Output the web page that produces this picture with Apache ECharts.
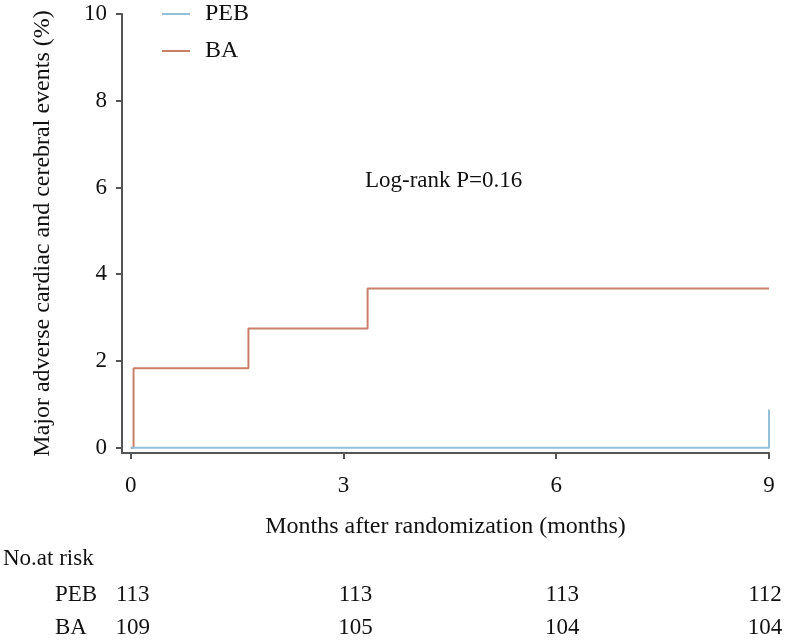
<!DOCTYPE html>
<html>
<head>
<meta charset="utf-8">
<script src="https://cdn.jsdelivr.net/npm/echarts@6/dist/echarts.min.js"></script>
<style>html,body{margin:0;padding:0;background:#fff}#c{width:800px;height:644px}</style>
</head>
<body>
<div id="c"></div>
<script>
// Kaplan-Meier cumulative event data (months, %)
const pebTimes = [0, 9];
const pebValues = [0, 0.88];
const baTimes = [0, 0.04, 1.66, 3.34, 9];
const baValues = [0, 1.83, 2.75, 3.67, 3.67];
const xTicks = [0, 3, 6, 9];
const yTicks = [0, 2, 4, 6, 8, 10];
// Number at risk table
const riskTimes = [0, 3, 6, 9];
const riskGroups = ['PEB', 'BA'];
const riskPEB = [113, 113, 113, 112];
const riskBA = [109, 105, 104, 104];
const annotation = 'Log-rank P=0.16';

// style only: horizontal nudge (px) of the risk-table columns
const riskColumnNudge = [2, 12, 6, -4];

const FONT = '"Liberation Serif", "Times New Roman", serif';
const AX = '#555';
const TXT = '#111';
const FS = 23;

const toPairs = (xs, ys) => xs.map((x, i) => [x, ys[i]]);
const riskData = [];
riskTimes.forEach((t, i) => {
  riskData.push({value: [t, 'PEB', riskPEB[i]], label: {offset: [riskColumnNudge[i], 0]}});
  riskData.push({value: [t, 'BA', riskBA[i]], label: {offset: [riskColumnNudge[i], 0]}});
});

const chart = echarts.init(document.getElementById('c'), null, {renderer: 'canvas'});
chart.setOption({
  animation: false,
  backgroundColor: '#fff',
  textStyle: {fontFamily: FONT},
  grid: [
    {left: 122, width: 647, top: 14, bottom: 191, containLabel: false},
    {left: 122, width: 647, top: 578, height: 74, containLabel: false}
  ],
  xAxis: [{
    type: 'value', gridIndex: 0, min: -0.123, max: 9,
    splitLine: {show: false},
    axisLine: {show: true, onZero: false, lineStyle: {color: AX, width: 2}},
    axisTick: {show: true, customValues: xTicks, length: 6, lineStyle: {color: AX, width: 2}},
    axisLabel: {customValues: xTicks, color: TXT, fontSize: FS, fontFamily: FONT, margin: 21},
    name: 'Months after randomization (months)', nameLocation: 'middle', nameGap: 62,
    nameTextStyle: {color: TXT, fontSize: 24, fontFamily: FONT}
  }, {
    type: 'value', gridIndex: 1, min: -0.123, max: 9, show: false
  }],
  yAxis: [{
    type: 'value', gridIndex: 0, min: -0.122, max: 10,
    splitLine: {show: false},
    axisLine: {show: true, onZero: false, lineStyle: {color: AX, width: 2}},
    axisTick: {show: true, customValues: yTicks, length: 6, lineStyle: {color: AX, width: 2}},
    axisLabel: {customValues: yTicks, color: TXT, fontSize: FS, fontFamily: FONT, margin: 15},
    name: 'Major adverse cardiac and cerebral events (%)', nameLocation: 'middle', nameGap: 67,
    nameTextStyle: {color: TXT, fontSize: 24, fontFamily: FONT}
  }, {
    type: 'category', gridIndex: 1, data: riskGroups, inverse: true,
    axisLine: {show: false}, axisTick: {show: false}, splitLine: {show: false},
    axisLabel: {align: 'left', margin: 67, color: TXT, fontSize: FS, fontFamily: FONT}
  }],
  legend: {
    orient: 'vertical', left: 162, top: 2, padding: 0, itemWidth: 28, itemHeight: 2, itemGap: 13,
    icon: 'rect',
    textStyle: {color: TXT, fontSize: 24, fontFamily: FONT, padding: [0, 0, 0, 10]},
    data: ['PEB', 'BA']
  },
  graphic: [
    {type: 'text', left: 3, top: 547, style: {text: 'No.at risk', fill: TXT, font: FS + 'px ' + FONT}},
    {type: 'text', left: 365, top: 169, style: {text: annotation, fill: TXT, font: FS + 'px ' + FONT}}
  ],
  series: [
    {
      name: 'BA', type: 'line', xAxisIndex: 0, yAxisIndex: 0, step: 'end',
      data: toPairs(baTimes, baValues), showSymbol: false, symbol: 'none',
      lineStyle: {color: '#c98068', width: 2}, itemStyle: {color: '#c98068'}
    },
    {
      name: 'PEB', type: 'line', xAxisIndex: 0, yAxisIndex: 0, step: 'end',
      data: toPairs(pebTimes, pebValues), showSymbol: false, symbol: 'none',
      lineStyle: {color: '#93bfdb', width: 2}, itemStyle: {color: '#93bfdb'}
    },
    {
      name: 'risk', type: 'scatter', xAxisIndex: 1, yAxisIndex: 1,
      data: riskData, symbolSize: 0, silent: true,
      itemStyle: {opacity: 1},
      label: {show: true, position: 'inside', color: TXT, opacity: 1, fontSize: FS, fontFamily: FONT,
        formatter: p => String(p.value[2])}
    }
  ]
});
</script>
</body>
</html>
